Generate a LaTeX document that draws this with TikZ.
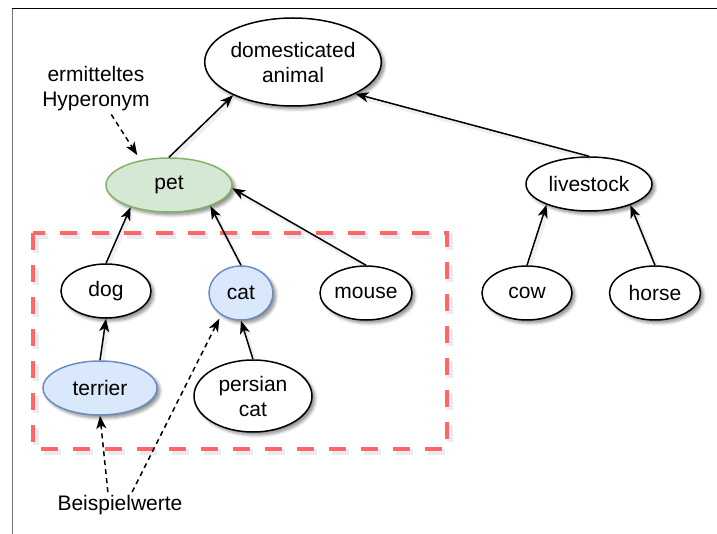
\documentclass[tikz,border=0pt]{standalone}
\usepackage{fontspec}
\setmainfont{Liberation Sans}
\usetikzlibrary{shapes.geometric,arrows.meta,shadows.blur}

\definecolor{greenfill}{HTML}{D5E8D4}
\definecolor{greenline}{HTML}{82B366}
\definecolor{bluefill}{HTML}{DAE8FC}
\definecolor{blueline}{HTML}{6C8EBF}
\definecolor{boxred}{HTML}{FF6666}
\definecolor{shade}{HTML}{8A8AB0}

\tikzset{
  concept/.style={ellipse, draw=black, fill=white, line width=1.5pt, inner sep=0pt,
    align=center, font=\fontsize{21}{25}\selectfont,
    blur shadow={shadow xshift=3pt, shadow yshift=-3pt, shadow blur radius=3pt,
      shadow blur steps=6, shadow opacity=45}},
  greenconcept/.style={concept, draw=greenline, fill=greenfill},
  blueconcept/.style={concept, draw=blueline, fill=bluefill},
  note/.style={align=center, font=\fontsize{21}{25}\selectfont, inner sep=3pt},
  softline/.style={preaction={draw=shade, opacity=0.14, line width=4pt,
    transform canvas={shift={(2pt,-2.5pt)}}}},
  isa/.style={softline, line width=1.5pt, -{Stealth[length=13pt, width=10pt, inset=3.5pt]}},
  hint/.style={line width=1.5pt, dash pattern=on 5pt off 4pt,
    -{Stealth[length=13pt, width=10pt, inset=3.5pt]}},
  groupbox/.style={draw=boxred, line width=4.3pt, dash pattern=on 17pt off 15pt},
}

\begin{document}
\begin{tikzpicture}[x=1pt, y=-1pt]
  \useasboundingbox (0,0) rectangle (717,534);

  % outer frame (top and left edges)
  \draw[line width=1pt, black!55] (12,534) -- (12,9);
  \draw[line width=1pt, black] (12,9) -- (717,9);

  % example group frame with its soft shadow
  \draw[groupbox, draw=shade, opacity=0.18, line width=6pt] (35.5,236) rectangle (449.5,452);
  \draw[groupbox] (33,233) rectangle (447,449);

  % concepts
  \node[concept, minimum width=162pt, minimum height=88pt] (dom) at (293,62) {domesticated\\animal};
  \node[greenconcept, minimum width=126pt, minimum height=54pt] (pet) at (169,185) {pet};
  \node[concept, minimum width=126pt, minimum height=54pt] (liv) at (589,184) {livestock};
  \node[concept, minimum width=90pt, minimum height=54pt] (dog) at (106,291) {dog};
  \node[blueconcept, minimum width=64pt, minimum height=54pt] (cat) at (241,293) {cat};
  \node[concept, minimum width=92pt, minimum height=54pt] (mouse) at (366,293) {mouse};
  \node[concept, minimum width=90pt, minimum height=54pt] (cow) at (527,293) {cow};
  \node[concept, minimum width=91pt, minimum height=54pt] (horse) at (655,293) {horse};
  \node[blueconcept, minimum width=114pt, minimum height=54pt] (terrier) at (100,388) {terrier};
  \node[concept, minimum width=118pt, minimum height=72pt] (persian) at (253,396) {persian\\cat};

  % annotations
  \node[note] (hyp) at (96,89) {ermitteltes\\Hyperonym};
  \node[note] (bsp) at (120,505) {Beispielwerte};

  % is-a relations
  \draw[isa] (pet.north) -- (dom.209);
  \draw[isa] (liv.north) -- (dom.-27);
  \draw[isa] (dog.north) -- (pet.210);
  \draw[isa] (cat.north) -- (pet.-27);
  \draw[isa] (mouse.north) -- (pet.-3);
  \draw[isa] (cow.north) -- (liv.206);
  \draw[isa] (horse.north) -- (liv.-27);
  \draw[isa] (terrier.north) -- (dog.south);
  \draw[isa] (persian.north) -- (cat.south);

  % annotation pointers
  \draw[hint, shorten >=6pt] (hyp.-59) -- (pet.139);
  \draw[hint] (bsp.133) -- (terrier.south);
  \draw[hint, shorten >=4pt] (bsp.47) -- (cat.228);
\end{tikzpicture}
\end{document}
